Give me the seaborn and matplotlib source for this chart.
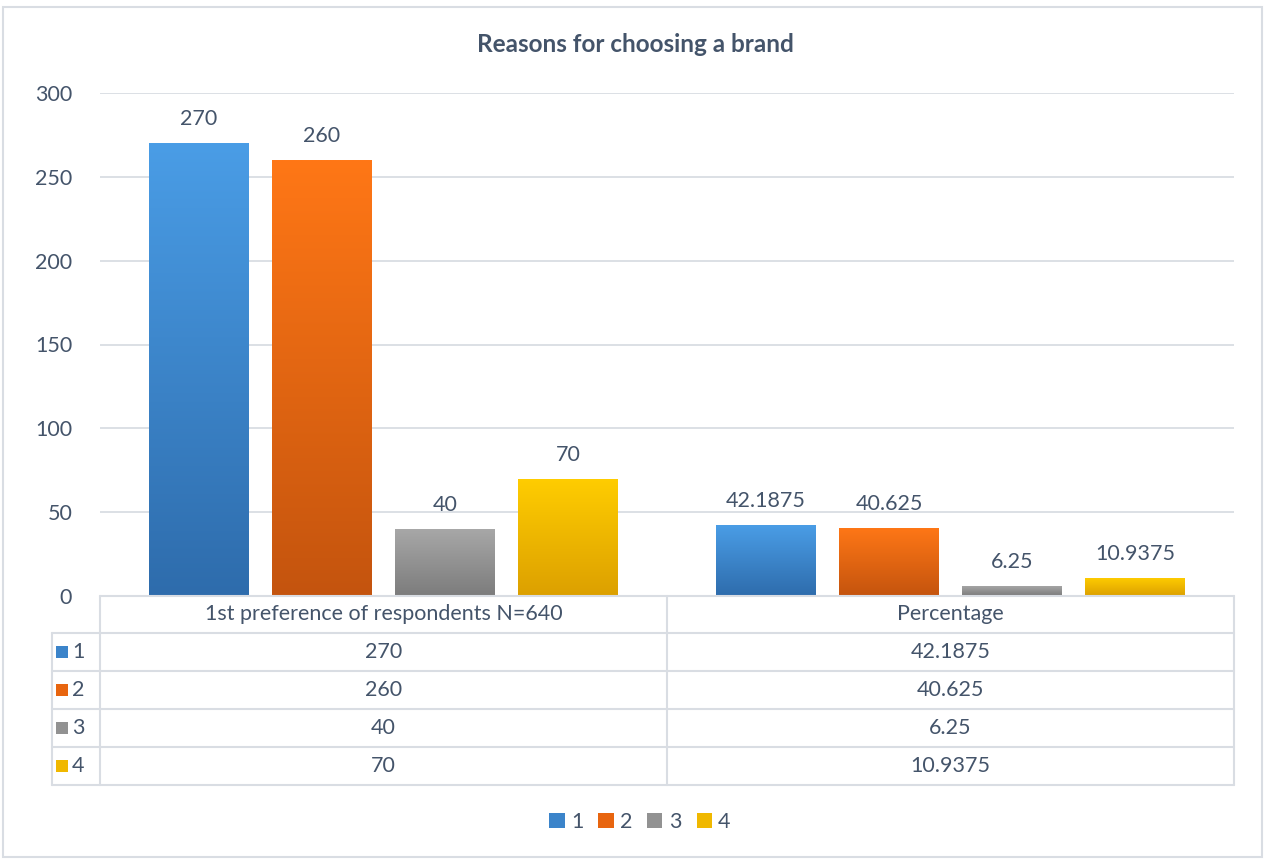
import numpy as np
import pandas as pd
import matplotlib
matplotlib.use("Agg")
import matplotlib.pyplot as plt
import seaborn as sns
from matplotlib.colors import LinearSegmentedColormap
from matplotlib.patches import Patch, Rectangle
from matplotlib.lines import Line2D

# ---- data ----
categories = ["1st preference of respondents N=640", "Percentage"]
series = ["1", "2", "3", "4"]
respondents = [270, 260, 40, 70]
percentage = [42.1875, 40.625, 6.25, 10.9375]
title = "Reasons for choosing a brand"

# colours (top, bottom of gradient)
tops = ["#4A9DE6", "#FF7716", "#A8A8A8", "#FFCD00"]
bottoms = ["#2E6CAC", "#C4540E", "#7C7C7C", "#DCA000"]
mids = ["#3B84CA", "#E8650F", "#929292", "#F0B800"]
TXT = "#44546A"
LINE = "#D9DDE3"
FS = 15.5

df = pd.DataFrame({
    "category": [categories[0]] * 4 + [categories[1]] * 4,
    "series": series * 2,
    "value": respondents + percentage,
})

sns.set_theme(style="white")
plt.rcParams["font.family"] = ["Lato", "DejaVu Sans"]

W, H = 1266, 859
fig = plt.figure(figsize=(W / 100, H / 100), dpi=100)
fig.patch.set_facecolor("white")

def fx(px):
    return px / W

def fy(py):
    return 1 - py / H

ax_l, ax_r, ax_t, ax_b = 100, 1234, 93, 596
ax = fig.add_axes([fx(ax_l), fy(ax_b), (ax_r - ax_l) / W, (ax_b - ax_t) / H])

sns.barplot(data=df, x="category", y="value", hue="series", hue_order=series,
            palette=mids, width=0.868, gap=0.19, legend=False, ax=ax,
            saturation=1, zorder=3)

ax.set_xlim(-0.5, 1.5)
ax.set_ylim(0, 300)
ax.set_yticks(np.arange(0, 301, 50))
ax.set_xticks([])
ax.set_xlabel("")
ax.set_ylabel("")
for s in ax.spines.values():
    s.set_visible(False)
ax.yaxis.grid(True, color=LINE, lw=1.3, zorder=0)
ax.set_axisbelow(True)
ax.tick_params(axis="y", length=0, pad=20, labelsize=FS, labelcolor=TXT)

# gradient fill
grad = np.linspace(0, 1, 256).reshape(-1, 1)
for i, cont in enumerate(ax.containers):
    cmap = LinearSegmentedColormap.from_list(f"g{i}", [bottoms[i], tops[i]])
    for bar in cont:
        x0, y0 = bar.get_x(), bar.get_y()
        w, h = bar.get_width(), bar.get_height()
        im = ax.imshow(grad, extent=[x0, x0 + w, y0, y0 + h], origin="lower",
                       aspect="auto", cmap=cmap, zorder=3)
        im.set_clip_path(bar)
        bar.set_facecolor("none")
        bar.set_edgecolor("none")
    ax.bar_label(cont, fmt="%g", padding=10, color=TXT, fontsize=FS)
ax.set_xlim(-0.5, 1.5)
ax.set_ylim(0, 300)

# title
fig.text(fx(635), fy(45), title, ha="center", va="center", fontsize=17.5,
         fontweight="bold", color=TXT)

# ---- data table ----
def hline(y, x0, x1):
    fig.add_artist(Line2D([fx(x0), fx(x1)], [fy(y), fy(y)], color=LINE, lw=1.5))

def vline(x, y0, y1):
    fig.add_artist(Line2D([fx(x), fx(x)], [fy(y0), fy(y1)], color=LINE, lw=1.5))

tab_left = 52
row_edges = [596, 633, 671, 709, 747, 785]
col_edges = [100, 667, 1234]
hline(row_edges[0], col_edges[0], col_edges[-1])
for y in row_edges[1:]:
    hline(y, tab_left, col_edges[-1])
for x in col_edges:
    vline(x, row_edges[0], row_edges[-1])
vline(tab_left, row_edges[1], row_edges[-1])

col_centers = [(col_edges[0] + col_edges[1]) / 2, (col_edges[1] + col_edges[2]) / 2]
hdr_y = (row_edges[0] + row_edges[1]) / 2
for cx, cat in zip(col_centers, categories):
    fig.text(fx(cx), fy(hdr_y), cat, ha="center", va="center", fontsize=FS, color=TXT)

columns = [respondents, percentage]
for r, s in enumerate(series):
    cy = (row_edges[r + 1] + row_edges[r + 2]) / 2
    # legend key
    fig.add_artist(Rectangle((fx(56), fy(cy + 6)), 12 / W, 12 / H,
                             facecolor=mids[r], edgecolor="none"))
    fig.text(fx(72), fy(cy), s, ha="left", va="center", fontsize=FS, color=TXT)
    for cx, col in zip(col_centers, columns):
        fig.text(fx(cx), fy(cy), f"{col[r]:g}", ha="center", va="center",
                 fontsize=FS, color=TXT)

# ---- bottom legend ----
handles = [Patch(facecolor=c, edgecolor="none") for c in mids]
fig.legend(handles=handles, labels=series, loc="center",
           bbox_to_anchor=(fx(640), fy(822)), ncol=4, frameon=False,
           handlelength=0.7, handleheight=0.7, handletextpad=0.3,
           columnspacing=0.7, fontsize=FS, labelcolor=TXT)

# outer border
fig.add_artist(Rectangle((fx(3), fy(857)), 1259 / W, 850 / H, fill=False,
                         edgecolor=LINE, lw=1.5))

fig.savefig("out.png", dpi=100)
